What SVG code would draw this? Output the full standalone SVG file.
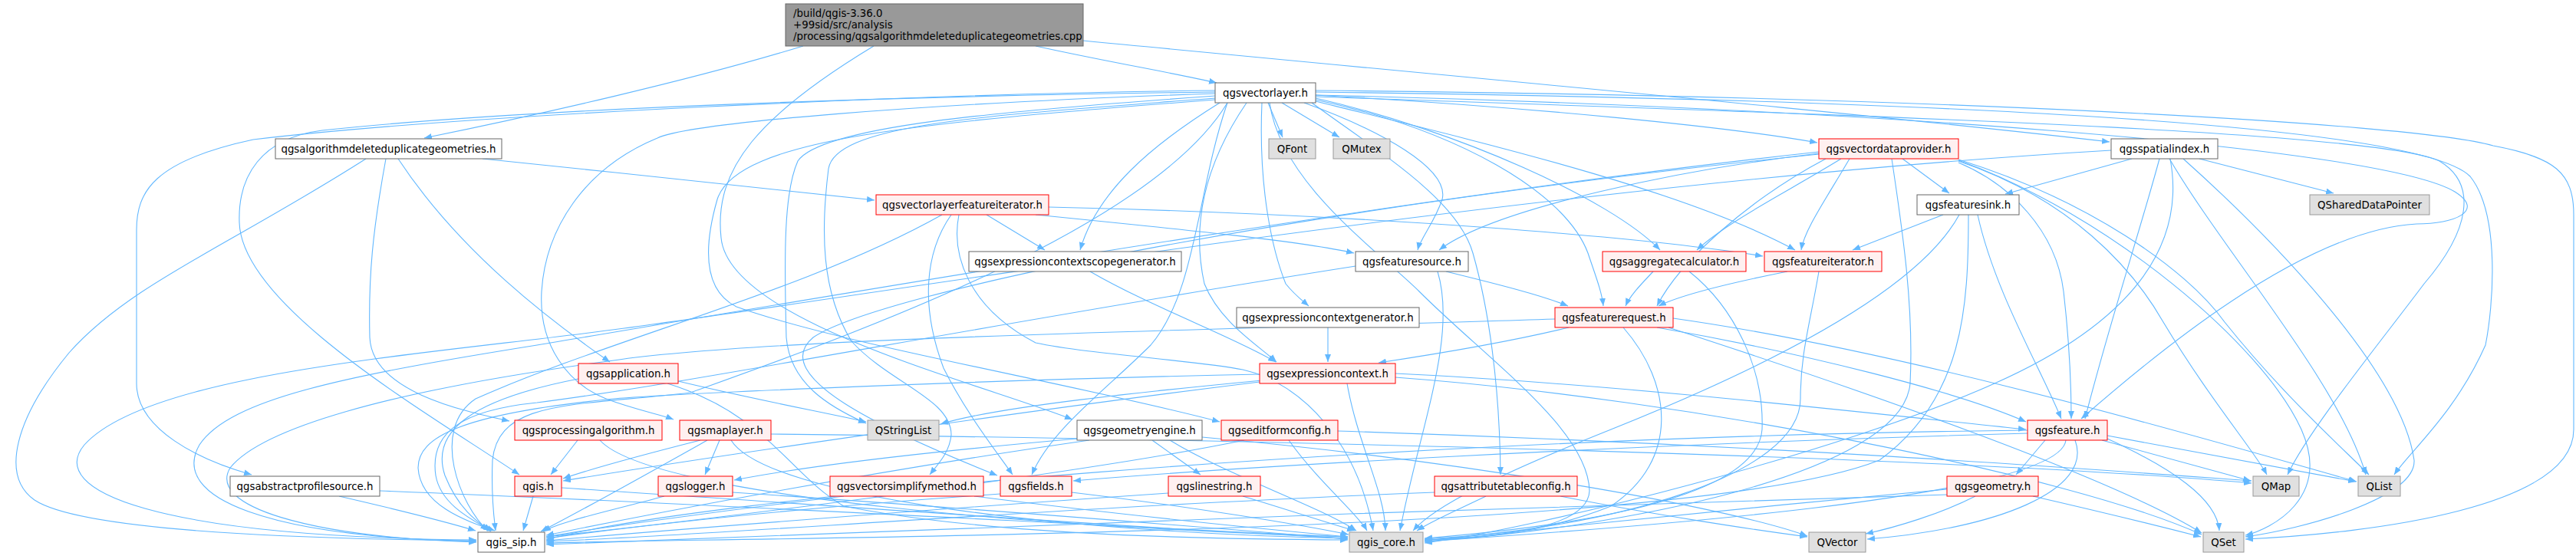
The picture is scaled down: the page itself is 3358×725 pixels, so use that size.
<svg xmlns="http://www.w3.org/2000/svg" width="3358" height="725" viewBox="0 0 3358 725">
<style>
.e{fill:none;stroke:#63b8ff;stroke-width:1.1;marker-end:url(#ah)}
rect{stroke-width:1}
.w rect{fill:#ffffff;stroke:#666666}
.r rect{fill:#fff0f0;stroke:#ff0000}
.x rect{fill:#e0e0e0;stroke:#999999}
.t rect{fill:#999999;stroke:#666666}
text{font-family:"DejaVu Sans","Liberation Sans",sans-serif;font-size:13.33px;text-anchor:middle;fill:#000000}
.t text{text-anchor:start}
</style>
<defs>
<marker id="ah" markerWidth="10" markerHeight="8" refX="10" refY="4" orient="auto" markerUnits="userSpaceOnUse">
<path d="M0,0 L10,4 L0,8 z" fill="#63b8ff"/>
</marker>
</defs>
<rect x="0" y="0" width="3358" height="725" fill="#ffffff"/>
<g id="connectors">
<path class="e" d="M1047,60 C 900,105 700,150 553,180"/>
<path class="e" d="M1350,60 C 1450,82 1530,95 1586,108"/>
<path class="e" d="M1139,60 C 990,150 930,220 940,310 C 950,420 1280,500 1398,547"/>
<path class="e" d="M1412,53 C 1900,100 2450,150 2750,185"/>
<path class="e" d="M477,207 C 300,320 170,370 90,460 C 20,545 0,620 45,652 C 110,695 420,703 621,705"/>
<path class="e" d="M503,207 C 486,300 480,360 482,440 C 485,510 600,535 664,549"/>
<path class="e" d="M519,207 C 600,330 720,420 795,472"/>
<path class="e" d="M629,207 C 800,225 1000,245 1140,261"/>
<path class="e" d="M1653,134 L1672,179"/>
<path class="e" d="M1671,134 L1746,179"/>
<path class="e" d="M1584,125 C 1300,145 1070,165 1040,210 C 1022,250 1022,330 1025,440 C 1030,500 1080,530 1129,552"/>
<path class="e" d="M1584,120 C 1200,125 700,140 420,170 C 340,180 310,230 312,290 C 315,400 560,540 677,619"/>
<path class="e" d="M1584,118 C 1200,122 600,150 330,182 C 200,210 178,250 178,300 L178,500 C 178,560 260,600 328,619"/>
<path class="e" d="M1584,122 C 1200,135 900,160 857,180 C 760,220 711,300 706,380 C 702,450 740,500 790,520 C 830,535 860,540 878,547"/>
<path class="e" d="M1600,134 C 1500,300 1100,440 900,512 C 750,530 650,520 642,600 C 640,650 644,675 646,692"/>
<path class="e" d="M1715,124 C 2400,140 3100,190 3200,250 C 3240,275 3200,292 3150,292 C 3000,300 2800,470 2713,546"/>
<path class="e" d="M1715,126 C 2400,150 3100,170 3180,210 C 3230,240 3220,300 3160,370 C 3100,450 3010,560 2982,619"/>
<path class="e" d="M1715,120 C 2500,130 3150,160 3220,230 C 3260,280 3250,400 3240,450 C 3200,540 3140,590 3121,619"/>
<path class="e" d="M1715,118 C 2500,125 3150,160 3250,190 C 3330,205 3355,225 3355,280 L3355,560 C 3355,660 3100,695 2927,703"/>
<path class="e" d="M1715,130 C 1900,170 2040,250 2070,330 C 2080,360 2088,380 2090,399"/>
<path class="e" d="M1700,134 C 1800,170 1890,220 1880,260 C 1870,290 1852,310 1848,326"/>
<path class="e" d="M1715,128 C 1900,170 2100,260 2164,326"/>
<path class="e" d="M1715,132 C 1950,190 2200,250 2340,326"/>
<path class="e" d="M1645,134 C 1640,250 1660,330 1676,370 C 1688,385 1698,392 1706,399"/>
<path class="e" d="M1625,134 C 1580,200 1550,280 1570,370 C 1590,420 1640,450 1664,472"/>
<path class="e" d="M1655,134 C 1670,240 1800,330 1850,380 C 1940,470 2070,560 2072,640 C 2070,690 1950,700 1857,704"/>
<path class="e" d="M1600,134 C 1560,250 1560,380 1500,450 C 1440,510 1370,560 1345,619"/>
<path class="e" d="M1584,128 C 1300,150 1090,160 1080,220 C 1070,300 1070,380 1110,445 C 1160,500 1240,520 1240,567 C 1238,590 1222,606 1212,619"/>
<path class="e" d="M1584,130 C 1200,160 960,180 935,260 C 915,330 920,380 960,400 C 1100,450 1400,500 1590,550"/>
<path class="e" d="M1710,134 C 1800,200 1900,260 1920,330 C 1940,400 1955,500 1956,619"/>
<path class="e" d="M1715,124 C 2000,140 2250,165 2369,186"/>
<path class="e" d="M1590,134 C 1500,190 1430,250 1408,326"/>
<path class="e" d="M2411,207 C 2380,260 2352,300 2348,326"/>
<path class="e" d="M2480,207 L2541,252"/>
<path class="e" d="M2466,207 C 2480,300 2495,400 2490,500 C 2480,620 2100,690 1857,706"/>
<path class="e" d="M2371,198 C 1800,260 1000,400 700,450 C 450,490 300,520 260,580 C 220,650 350,700 621,706"/>
<path class="e" d="M2553,210 C 2700,260 2780,350 2820,420 C 2880,520 2940,590 2955,619"/>
<path class="e" d="M2553,208 C 2720,260 2850,350 2900,420 C 2980,520 3060,590 3088,619"/>
<path class="e" d="M2553,209 C 2750,280 2950,450 3000,560 C 3040,650 2960,690 2927,698"/>
<path class="e" d="M2553,212 C 2620,240 2680,300 2690,380 C 2698,450 2700,500 2700,546"/>
<path class="e" d="M2371,201 C 1700,270 1150,380 1060,440 C 1000,490 1150,560 1300,620"/>
<path class="e" d="M2371,200 C 2200,220 1950,270 1876,326"/>
<path class="e" d="M2380,207 C 2280,260 2190,340 2160,399"/>
<path class="e" d="M2400,207 C 2330,250 2250,290 2212,326"/>
<path class="e" d="M2779,207 L2614,253"/>
<path class="e" d="M2867,207 L3042,252"/>
<path class="e" d="M2828,207 C 2900,330 3050,500 3084,619"/>
<path class="e" d="M2846,207 C 2950,300 3130,480 3147,600 C 3150,650 3000,690 2927,700"/>
<path class="e" d="M2815,207 C 2790,300 2750,420 2718,546"/>
<path class="e" d="M2829,207 C 2850,320 2780,420 2600,500 C 2400,590 2000,690 1857,708"/>
<path class="e" d="M2752,196 C 2000,240 1100,390 850,423 C 600,460 200,480 110,580 C 60,640 200,700 621,704"/>
<path class="e" d="M2533,280 L2415,326"/>
<path class="e" d="M2578,280 C 2600,380 2660,480 2687,546"/>
<path class="e" d="M2554,280 C 2500,380 2300,480 2100,560 C 1950,620 1870,660 1842,692"/>
<path class="e" d="M2566,280 C 2566,400 2560,520 2450,600 C 2200,700 1000,700 712,708"/>
<path class="e" d="M2330,354 C 2250,370 2190,385 2162,399"/>
<path class="e" d="M2371,354 C 2360,420 2347,460 2347,520 C 2347,620 2100,690 1857,703"/>
<path class="e" d="M1885,354 C 1950,370 2010,385 2044,399"/>
<path class="e" d="M1767,347 C 1300,420 900,500 700,525 C 600,535 560,565 568,620 C 575,660 620,680 640,692"/>
<path class="e" d="M1874,354 C 1900,440 1850,560 1825,692"/>
<path class="e" d="M2155,354 C 2140,370 2125,385 2119,399"/>
<path class="e" d="M2202,354 C 2260,400 2300,480 2297,560 C 2290,660 2000,690 1857,702"/>
<path class="e" d="M1421,354 C 1500,400 1610,440 1663,472"/>
<path class="e" d="M1731,427 L1731,472"/>
<path class="e" d="M2045,427 C 1950,450 1850,465 1797,473"/>
<path class="e" d="M2027,416 C 1600,430 1000,440 800,470 C 500,510 340,560 300,610 C 270,660 400,700 621,707"/>
<path class="e" d="M2116,427 C 2180,500 2190,600 2100,660 C 2000,700 1900,703 1857,704"/>
<path class="e" d="M2160,427 C 2350,460 2550,510 2641,550"/>
<path class="e" d="M2181,415 C 2500,460 2900,580 3072,628"/>
<path class="e" d="M2175,427 C 2400,500 2750,620 2870,695"/>
<path class="e" d="M1756,500 C 1770,580 1805,640 1806,692"/>
<path class="e" d="M1645,496 C 1500,510 1300,530 1226,553"/>
<path class="e" d="M1642,488 C 1300,495 900,512 800,520 C 600,540 545,570 545,610 C 548,660 610,680 645,692"/>
<path class="e" d="M1819,487 C 2100,500 2450,540 2641,560"/>
<path class="e" d="M1819,492 C 2200,520 2700,620 2870,697"/>
<path class="e" d="M1642,498 C 1300,540 900,600 734,627"/>
<path class="e" d="M754,494 C 620,520 560,560 580,620 C 600,670 630,685 640,693"/>
<path class="e" d="M884,497 C 980,520 1060,535 1129,550"/>
<path class="e" d="M870,500 C 1000,540 1030,620 1100,660 C 1300,700 1600,703 1757,704"/>
<path class="e" d="M753,574 L718,619"/>
<path class="e" d="M782,574 C 850,650 1400,690 1757,700"/>
<path class="e" d="M913,574 C 850,590 780,608 734,624"/>
<path class="e" d="M922,574 C 840,620 760,665 705,693"/>
<path class="e" d="M938,574 L919,619"/>
<path class="e" d="M953,574 C 1000,650 1400,695 1757,702"/>
<path class="e" d="M1005,566 C 1800,575 2600,600 2935,630"/>
<path class="e" d="M1404,572 C 1200,590 1050,608 957,626"/>
<path class="e" d="M1502,574 L1565,619"/>
<path class="e" d="M1525,574 C 1600,620 1720,660 1768,692"/>
<path class="e" d="M1420,574 C 1100,620 800,680 712,698"/>
<path class="e" d="M1567,570 C 1900,600 2250,660 2356,699"/>
<path class="e" d="M1622,574 C 1400,620 900,680 712,700"/>
<path class="e" d="M1680,574 C 1720,630 1770,670 1782,692"/>
<path class="e" d="M1744,562 C 2300,580 2700,610 2935,627"/>
<path class="e" d="M2643,561 C 1800,570 900,650 712,704"/>
<path class="e" d="M2643,565 C 2100,580 1600,610 1399,627"/>
<path class="e" d="M2666,574 L2628,619"/>
<path class="e" d="M2693,574 C 2685,650 2100,690 1857,706"/>
<path class="e" d="M2705,574 C 2730,640 2600,690 2434,703"/>
<path class="e" d="M2740,574 L2934,627"/>
<path class="e" d="M2747,568 L3071,628"/>
<path class="e" d="M2747,572 C 2830,610 2890,650 2893,692"/>
<path class="e" d="M2538,638 C 2300,660 2000,690 1857,705"/>
<path class="e" d="M2538,645 C 2000,660 900,700 712,710"/>
<path class="e" d="M2575,647 C 2530,670 2470,688 2432,696"/>
<path class="e" d="M2650,647 C 2750,670 2830,690 2869,700"/>
<path class="e" d="M695,647 L682,692"/>
<path class="e" d="M732,636 C 1100,660 1500,690 1757,702"/>
<path class="e" d="M866,647 C 800,665 730,680 708,693"/>
<path class="e" d="M955,642 C 1300,665 1600,690 1757,703"/>
<path class="e" d="M1100,647 C 950,665 780,688 712,700"/>
<path class="e" d="M1270,647 C 1450,670 1650,690 1757,700"/>
<path class="e" d="M1304,644 C 1000,665 800,690 712,702"/>
<path class="e" d="M1397,642 C 1550,660 1700,685 1758,697"/>
<path class="e" d="M1523,643 C 1200,665 850,693 712,705"/>
<path class="e" d="M1620,647 C 1680,665 1740,685 1766,692"/>
<path class="e" d="M1870,642 C 1400,660 900,700 712,706"/>
<path class="e" d="M1937,647 C 1900,665 1865,680 1847,692"/>
<path class="e" d="M2034,647 C 2150,670 2280,690 2356,700"/>
<path class="e" d="M442,647 C 520,665 580,680 620,692"/>
<path class="e" d="M495,640 C 1000,660 1500,690 1757,700"/>
<path class="e" d="M1228,280 C 1050,380 800,440 620,520 C 560,560 600,660 636,692"/>
<path class="e" d="M1240,280 C 1205,330 1200,400 1230,480 C 1260,540 1300,590 1320,619"/>
<path class="e" d="M1286,280 L1362,326"/>
<path class="e" d="M1350,280 C 1550,300 1700,315 1765,330"/>
<path class="e" d="M1367,270 C 1800,280 2150,310 2298,334"/>
<path class="e" d="M1250,280 C 1240,330 1260,400 1350,447 C 1420,462 1560,470 1620,482 C 1700,500 1770,580 1790,692"/>
</g>
<g id="node_top" class="t"><rect x="1024" y="5" width="388" height="55"/><text x="1034" y="21.5">/build/qgis-3.36.0</text><text x="1034" y="36.5">+99sid/src/analysis</text><text x="1034" y="51.5">/processing/qgsalgorithmdeleteduplicategeometries.cpp</text></g>
<g id="node_qgsvectorlayer" class="w"><rect x="1584" y="108" width="131" height="26"/><text x="1649.5" y="125.5">qgsvectorlayer.h</text></g>
<g id="node_qgsalgorithmdeleteduplicategeometries" class="w"><rect x="359" y="181" width="295" height="26"/><text x="506.5" y="198.5">qgsalgorithmdeleteduplicategeometries.h</text></g>
<g id="node_QFont" class="x"><rect x="1654" y="181" width="61" height="26"/><text x="1684.5" y="198.5">QFont</text></g>
<g id="node_QMutex" class="x"><rect x="1738" y="181" width="74" height="26"/><text x="1775" y="198.5">QMutex</text></g>
<g id="node_qgsvectordataprovider" class="r"><rect x="2371" y="181" width="182" height="26"/><text x="2462" y="198.5">qgsvectordataprovider.h</text></g>
<g id="node_qgsspatialindex" class="w"><rect x="2752" y="181" width="139" height="26"/><text x="2821.5" y="198.5">qgsspatialindex.h</text></g>
<g id="node_qgsvectorlayerfeatureiterator" class="r"><rect x="1142" y="254" width="225" height="26"/><text x="1254.5" y="271.5">qgsvectorlayerfeatureiterator.h</text></g>
<g id="node_qgsfeaturesink" class="w"><rect x="2499" y="254" width="133" height="26"/><text x="2565.5" y="271.5">qgsfeaturesink.h</text></g>
<g id="node_QSharedDataPointer" class="x"><rect x="3011" y="254" width="156" height="26"/><text x="3089" y="271.5">QSharedDataPointer</text></g>
<g id="node_qgsexpressioncontextscopegenerator" class="w"><rect x="1263" y="328" width="277" height="26"/><text x="1401.5" y="345.5">qgsexpressioncontextscopegenerator.h</text></g>
<g id="node_qgsfeaturesource" class="w"><rect x="1767" y="328" width="147" height="26"/><text x="1840.5" y="345.5">qgsfeaturesource.h</text></g>
<g id="node_qgsaggregatecalculator" class="r"><rect x="2089" y="328" width="187" height="26"/><text x="2182.5" y="345.5">qgsaggregatecalculator.h</text></g>
<g id="node_qgsfeatureiterator" class="r"><rect x="2300" y="328" width="153" height="26"/><text x="2376.5" y="345.5">qgsfeatureiterator.h</text></g>
<g id="node_qgsexpressioncontextgenerator" class="w"><rect x="1612" y="401" width="238" height="26"/><text x="1731" y="418.5">qgsexpressioncontextgenerator.h</text></g>
<g id="node_qgsfeaturerequest" class="r"><rect x="2027" y="401" width="154" height="26"/><text x="2104" y="418.5">qgsfeaturerequest.h</text></g>
<g id="node_qgsapplication" class="r"><rect x="754" y="474" width="130" height="26"/><text x="819" y="491.5">qgsapplication.h</text></g>
<g id="node_qgsexpressioncontext" class="r"><rect x="1642" y="474" width="177" height="26"/><text x="1730.5" y="491.5">qgsexpressioncontext.h</text></g>
<g id="node_qgsprocessingalgorithm" class="r"><rect x="671" y="548" width="192" height="26"/><text x="767" y="565.5">qgsprocessingalgorithm.h</text></g>
<g id="node_qgsmaplayer" class="r"><rect x="886" y="548" width="119" height="26"/><text x="945.5" y="565.5">qgsmaplayer.h</text></g>
<g id="node_QStringList" class="x"><rect x="1131" y="548" width="93" height="26"/><text x="1177.5" y="565.5">QStringList</text></g>
<g id="node_qgsgeometryengine" class="w"><rect x="1404" y="548" width="163" height="26"/><text x="1485.5" y="565.5">qgsgeometryengine.h</text></g>
<g id="node_qgseditformconfig" class="r"><rect x="1592" y="548" width="152" height="26"/><text x="1668" y="565.5">qgseditformconfig.h</text></g>
<g id="node_qgsfeature" class="r"><rect x="2643" y="548" width="104" height="26"/><text x="2695" y="565.5">qgsfeature.h</text></g>
<g id="node_qgsabstractprofilesource" class="w"><rect x="300" y="621" width="195" height="26"/><text x="397.5" y="638.5">qgsabstractprofilesource.h</text></g>
<g id="node_qgis" class="r"><rect x="671" y="621" width="61" height="26"/><text x="701.5" y="638.5">qgis.h</text></g>
<g id="node_qgslogger" class="r"><rect x="858" y="621" width="97" height="26"/><text x="906.5" y="638.5">qgslogger.h</text></g>
<g id="node_qgsvectorsimplifymethod" class="r"><rect x="1082" y="621" width="200" height="26"/><text x="1182" y="638.5">qgsvectorsimplifymethod.h</text></g>
<g id="node_qgsfields" class="r"><rect x="1304" y="621" width="93" height="26"/><text x="1350.5" y="638.5">qgsfields.h</text></g>
<g id="node_qgslinestring" class="r"><rect x="1523" y="621" width="120" height="26"/><text x="1583" y="638.5">qgslinestring.h</text></g>
<g id="node_qgsattributetableconfig" class="r"><rect x="1870" y="621" width="186" height="26"/><text x="1963" y="638.5">qgsattributetableconfig.h</text></g>
<g id="node_qgsgeometry" class="r"><rect x="2538" y="621" width="119" height="26"/><text x="2597.5" y="638.5">qgsgeometry.h</text></g>
<g id="node_QMap" class="x"><rect x="2937" y="621" width="60" height="26"/><text x="2967" y="638.5">QMap</text></g>
<g id="node_QList" class="x"><rect x="3074" y="621" width="55" height="26"/><text x="3101.5" y="638.5">QList</text></g>
<g id="node_qgis_sip" class="w"><rect x="623" y="694" width="87" height="26"/><text x="666.5" y="711.5">qgis_sip.h</text></g>
<g id="node_qgis_core" class="x"><rect x="1759" y="694" width="96" height="26"/><text x="1807" y="711.5">qgis_core.h</text></g>
<g id="node_QVector" class="x"><rect x="2358" y="694" width="74" height="26"/><text x="2395" y="711.5">QVector</text></g>
<g id="node_QSet" class="x"><rect x="2872" y="694" width="53" height="26"/><text x="2898.5" y="711.5">QSet</text></g>
</svg>
